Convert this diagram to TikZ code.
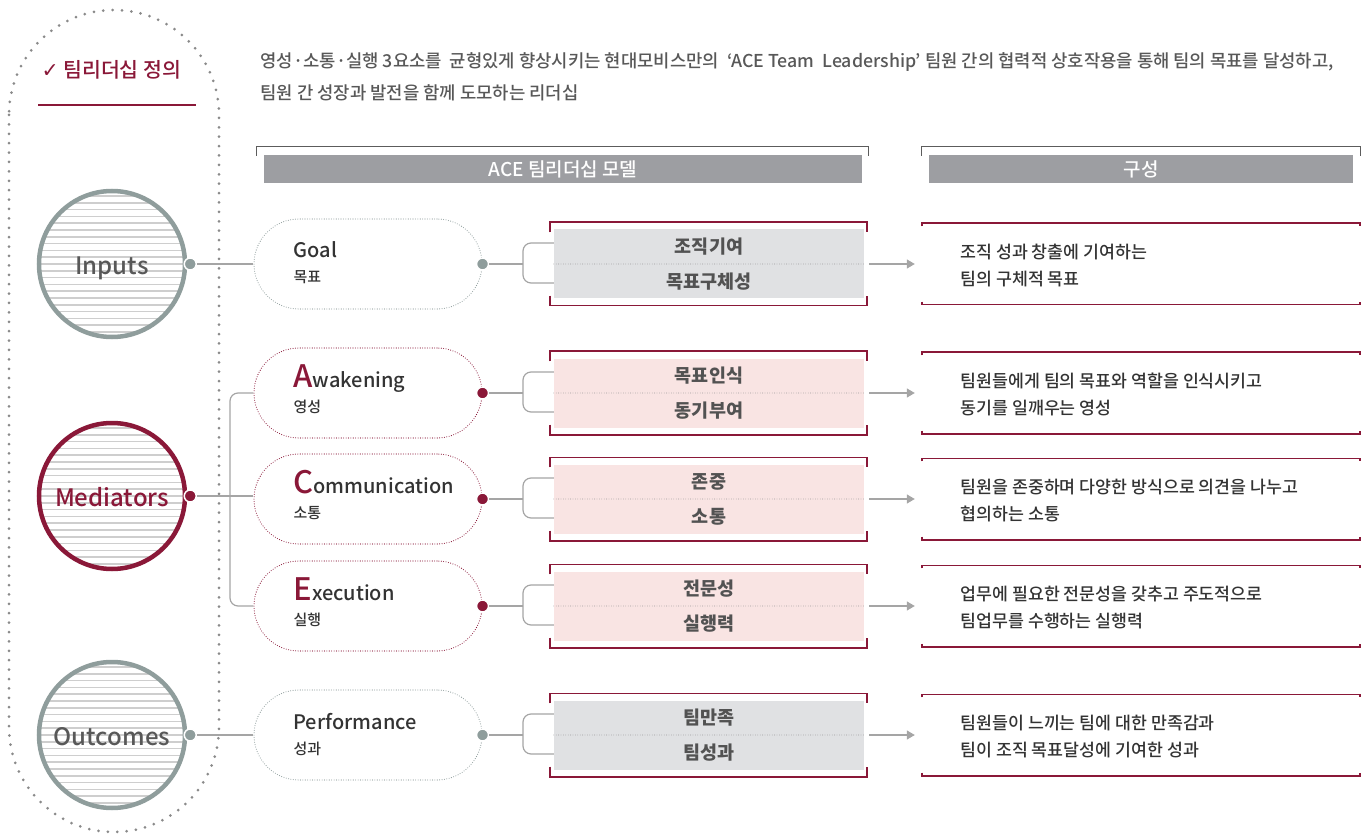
\documentclass[tikz,border=0pt]{standalone}
\usepackage{fontspec}
\setmainfont{Noto Sans CJK KR Medium}
\newfontfamily\boxfont{Noto Sans CJK KR}
\newfontfamily\symfont{DejaVu Sans}
\usepackage{tikz}
\usetikzlibrary{arrows.meta,calc}

\definecolor{wine}{RGB}{138,24,56}
\definecolor{ringgray}{RGB}{143,157,156}
\definecolor{stripegray}{RGB}{206,206,206}
\definecolor{boxgray}{RGB}{224,225,227}
\definecolor{boxpink}{RGB}{249,228,227}
\definecolor{bargray}{RGB}{157,158,162}
\definecolor{ink}{RGB}{51,51,51}
\definecolor{midink}{RGB}{88,88,88}
\definecolor{linegray}{RGB}{165,165,165}
\definecolor{dotgray}{RGB}{138,138,138}

\newcommand{\fsz}[1]{\fontsize{#1}{#1}\selectfont}
\newcommand{\initial}[1]{{\color{wine}\fsz{31}#1}}
\newcommand{\ringlabel}[1]{\raisebox{-10.5pt}[0pt][0pt]{#1}}

\tikzset{
  ring/.style={circle,line width=4.5pt,minimum size=146pt,inner sep=0pt,font=\fsz{24},
    path picture={\foreach \k in {-11,...,11}
      \draw[stripegray,line width=1.6pt] ([yshift=\k*6.8pt]path picture bounding box.west) -- ([yshift=\k*6.8pt]path picture bounding box.east);}},
  knob/.style={circle,inner sep=0pt,minimum size=12pt,draw=white,line width=1.5pt},
  pill/.style={rectangle,rounded corners=45pt,minimum width=228pt,minimum height=90pt,
    line width=1.1pt,dash pattern=on 0pt off 2.4pt,line cap=round},
  conn/.style={linegray,line width=1.2pt},
  itembox/.style={rectangle,minimum width=310pt,minimum height=69pt,inner sep=0pt},
  itemtxt/.style={font=\boxfont\fsz{18.5}\bfseries,text=ink!85},
  divider/.style={dotgray,line width=0.8pt,dash pattern=on 0pt off 2.4pt,line cap=round},
  redbrk/.style={wine,line width=1.6pt},
  descbox/.style={rectangle,minimum width=438pt,minimum height=81pt,inner sep=0pt},
  desctxt/.style={font=\fsz{17.3},text=ink,anchor=west},
  hdrbar/.style={rectangle,fill=bargray,minimum height=28pt,inner sep=0pt,text=white,font=\fsz{19}},
  hdrbrk/.style={ink!80,line width=1pt},
  arr/.style={linegray,line width=1.2pt,-{Triangle[length=8pt,width=9pt]}}
}

\begin{document}
\begin{tikzpicture}[x=1pt,y=-1pt]
  \useasboundingbox (0,0) rectangle (1371,834);

  % dotted frame and title
  \draw[dotgray,line width=3pt,dash pattern=on 0pt off 9.4pt,line cap=round,rounded corners=105pt] (9,10) rectangle (219,832);
  \node[anchor=west,text=wine,font=\fsz{20.5}] (title) at (38,70) {{\symfont ✓} 팀리더십 정의};
  \draw[wine,line width=1.2pt] (38,105) -- (196,105);

  % description
  \node[anchor=west,text=midink,font=\fsz{17.75}] (intro1) at (257,62) {영성·소통·실행 3요소를~ 균형있게 향상시키는 현대모비스만의~ ‘ACE Team~ Leadership’ 팀원 간의 협력적 상호작용을 통해 팀의 목표를 달성하고,};
  \node[anchor=west,text=midink,font=\fsz{17.75}] (intro2) at (257,93) {팀원 간 성장과 발전을 함께 도모하는 리더십};

  % headers
  \node[hdrbar,minimum width=598pt] (modelbar) at (563,169) {ACE 팀리더십 모델};
  \draw[hdrbrk] ([shift={(-7pt,-1pt)}]modelbar.north west) |- ([shift={(6pt,8pt)}]modelbar.north east) -- ([shift={(6pt,-1pt)}]modelbar.north east);
  \node[hdrbar,minimum width=424pt] (partbar) at (1141,169) {구성};
  \draw[hdrbrk] ([shift={(-7pt,-1pt)}]partbar.north west) |- ([shift={(7pt,8pt)}]partbar.north east) -- ([shift={(7pt,-1pt)}]partbar.north east);

  % rows
  \foreach \nm/\y/\pc/\fc/\lab/\sub/\ta/\tb/\ra/\rb in {
    goal/264/ringgray/boxgray/{Goal}/목표/조직기여/목표구체성/{조직 성과 창출에 기여하는}/{팀의 구체적 목표},
    awak/393/wine/boxpink/{\initial{A}wakening}/영성/목표인식/동기부여/{팀원들에게 팀의 목표와 역할을 인식시키고}/{동기를 일깨우는 영성},
    comm/499/wine/boxpink/{\initial{C}ommunication}/소통/존중/소통/{팀원을 존중하며 다양한 방식으로 의견을 나누고}/{협의하는 소통},
    exec/606/wine/boxpink/{\initial{E}xecution}/실행/전문성/실행력/{업무에 필요한 전문성을 갖추고 주도적으로}/{팀업무를 수행하는 실행력},
    perf/735/ringgray/boxgray/{Performance}/성과/팀만족/팀성과/{팀원들이 느끼는 팀에 대한 만족감과}/{팀이 조직 목표달성에 기여한 성과}} {
    \node[pill,draw=\pc] (\nm) at (368,\y) {};
    \node[anchor=base west,text=ink,font=\fsz{20}] (\nm lab) at (290,\y-6) {\lab};
    \node[anchor=base west,text=ink,font=\fsz{15}] (\nm sub) at (290,\y+19) {\sub};
    \node[knob,fill=\pc] (\nm dot) at (\nm.east) {};
    \node[itembox,fill=\fc] (\nm box) at (709,\y) {};
    \draw[divider] (\nm box.west) -- (\nm box.east);
    \node[itemtxt] (\nm ta) at ([yshift=17pt]\nm box.center) {\ta};
    \node[itemtxt] (\nm tb) at ([yshift=-18pt]\nm box.center) {\tb};
    \draw[redbrk] ([shift={(-4pt,-3pt)}]\nm box.north west) |- ([shift={(3pt,7pt)}]\nm box.north east) -- ([shift={(3pt,-3pt)}]\nm box.north east);
    \draw[redbrk] ([shift={(-4pt,3pt)}]\nm box.south west) |- ([shift={(3pt,-7pt)}]\nm box.south east) -- ([shift={(3pt,3pt)}]\nm box.south east);
    \coordinate (\nm fork) at (523,\y);
    \draw[conn] (\nm dot) -- (\nm fork);
    \draw[conn,rounded corners=8pt] ([yshift=21pt]\nm box.west) -| (\nm fork) |- ([yshift=-19pt]\nm box.west);
    \node[descbox] (\nm desc) at (1141,\y) {};
    \draw[redbrk] ([yshift=-3pt]\nm desc.north west) -- (\nm desc.north west) -- (\nm desc.north east) -- ([yshift=-3pt]\nm desc.north east);
    \draw[redbrk] ([yshift=3pt]\nm desc.south west) -- (\nm desc.south west) -- (\nm desc.south east) -- ([yshift=3pt]\nm desc.south east);
    \node[desctxt] (\nm ra) at (957,\y-12) {\ra};
    \node[desctxt] (\nm rb) at (957,\y+15) {\rb};
    \draw[arr] ([xshift=5pt]\nm box.east) -- ([xshift=-7pt]\nm desc.west);
  }

  % stages
  \node[ring,draw=ringgray,text=midink] (inputs) at (112,264) {\ringlabel{Inputs}};
  \node[knob,fill=ringgray] (inputsdot) at ([xshift=3pt]inputs.east) {};
  \node[ring,draw=wine,text=wine] (mediators) at (112,496) {\ringlabel{Mediators}};
  \node[knob,fill=wine] (mediatorsdot) at ([xshift=3pt]mediators.east) {};
  \node[ring,draw=ringgray,text=midink] (outcomes) at (112,735) {\ringlabel{Outcomes}};
  \node[knob,fill=ringgray] (outcomesdot) at ([xshift=3pt]outcomes.east) {};

  \draw[conn] (inputsdot) -- (inputsdot -| goal.west);
  \draw[conn] (outcomesdot) -- (outcomesdot -| perf.west);
  \coordinate (split) at (230,496);
  \draw[conn] (mediatorsdot) -- (mediatorsdot -| comm.west);
  \draw[conn,rounded corners=8pt] (awak.west) -| (split) |- (exec.west);
\end{tikzpicture}
\end{document}
